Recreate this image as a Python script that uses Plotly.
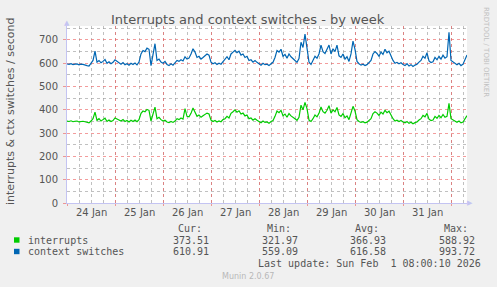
import pandas as pd
import plotly.graph_objects as go

# ---------------- data ----------------
start = "2026-01-24 00:00"
ctx_switches = [
    597, 595, 598, 594, 596, 597, 593, 596, 595, 594,
    590, 588, 598, 612, 652, 605, 612, 602, 608, 616, 600, 606, 598, 604,
    615, 608, 600, 596, 603, 594, 598, 592, 600, 595, 601, 593,
    605, 640, 655, 650, 665, 660,
    590, 640, 684, 612, 618, 605, 600, 608, 595, 590, 598, 592, 600, 612, 608, 615, 610,
    628, 618, 622, 640, 662, 648, 625, 630, 618, 625, 632, 640, 635, 605, 598, 602, 595,
    600, 596, 608, 615, 628,
    615, 640, 648, 655, 645, 652, 635, 640, 625, 630, 612, 615, 605, 612, 604, 598, 592,
    600, 594, 596, 590, 598, 604,
    625, 655, 648, 660, 630, 638, 622, 640, 628, 618, 612, 604, 620, 690, 668, 725, 670,
    605, 595, 612, 630, 622, 640, 678, 650, 642, 660, 678, 640, 662, 650, 678, 632, 625,
    640, 618, 628, 608, 640, 695, 660, 608, 598, 592, 596, 590, 594, 604, 612, 640, 650,
    642, 630, 648, 638, 660, 645,
    652, 628, 612, 600, 604, 598, 602, 595, 590, 598, 588, 594, 586, 592, 596, 605, 612,
    630, 622, 645, 610, 603, 606, 625, 615, 630, 618, 635, 622, 628, 733, 612, 605, 598,
    594, 600, 590, 596, 615, 636,
]
interrupts = [
    352, 350, 353, 349, 351, 352, 348, 350, 351, 349,
    345, 344, 352, 362, 390, 355, 362, 352, 358, 364, 350, 356, 350, 354,
    365, 360, 356, 352, 358, 350, 354, 348, 355, 350, 356, 349,
    358, 385, 395, 392, 402, 398,
    352, 385, 412, 362, 368, 358, 352, 356, 348, 345, 350, 346, 352, 362, 358, 365, 360,
    405, 372, 370, 385, 408, 392, 372, 378, 368, 375, 380, 386, 382, 356, 350, 354, 348,
    352, 349, 358, 362, 372,
    365, 385, 392, 400, 390, 396, 382, 386, 374, 378, 362, 365, 356, 362, 355, 350, 345,
    352, 346, 348, 342, 350, 354,
    372, 395, 388, 398, 375, 382, 368, 384, 374, 366, 362, 355, 368, 420, 400, 432, 405,
    356, 350, 362, 378, 370, 385, 412, 392, 386, 398, 418, 386, 400, 392, 410, 378, 372,
    384, 366, 374, 358, 384, 415, 395, 358, 350, 346, 349, 344, 347, 355, 362, 384, 392,
    386, 376, 390, 382, 398, 388,
    394, 375, 362, 352, 356, 350, 354, 348, 344, 350, 342, 347, 340, 345, 348, 356, 362,
    376, 370, 385, 360, 354, 356, 372, 364, 376, 366, 380, 368, 372, 428, 362, 356, 350,
    347, 352, 344, 348, 362, 375,
]
day_labels = ["24 Jan", "25 Jan", "26 Jan", "27 Jan", "28 Jan", "29 Jan", "30 Jan", "31 Jan"]
series_names = ["interrupts", "context switches"]
series_colors = ["#00cc00", "#0066b3"]
stats_cur = ["373.51", "610.91"]
stats_min = ["321.97", "559.09"]
stats_avg = ["366.93", "616.58"]
stats_max = ["588.92", "993.72"]

times = pd.date_range(start, periods=len(ctx_switches), freq="h")
x_start = pd.Timestamp(start)
x_end = pd.Timestamp("2026-02-01 08:00")
midnights = pd.date_range("2026-01-24", "2026-02-01", freq="D")
noons = [pd.Timestamp(f"2026-01-{d} 12:00") for d in range(24, 32)]

# ---------------- layout geometry ----------------
W, H = 497, 287
L, R, T, B = 67, 467, 26, 203


def px(x):
    return (x - L) / (R - L)


def py(y):
    return (B - y) / (B - T)


fig = go.Figure()
for name, vals, col in zip(series_names, [interrupts, ctx_switches], series_colors):
    fig.add_trace(go.Scatter(x=times, y=vals, mode="lines", name=name,
                             line=dict(color=col, width=1.2), showlegend=False,
                             hoverinfo="skip"))

grid_major = "rgba(235,90,90,0.6)"
grid_minor = "rgba(150,150,150,0.6)"
axis_col = "#c4c4f2"
txt_col = "#555555"
mono = "DejaVu Sans Mono"

fig.update_layout(
    width=W, height=H,
    margin=dict(l=L, r=W - R, t=T, b=H - B, pad=0),
    paper_bgcolor="#f0f0f0", plot_bgcolor="#ffffff",
    font=dict(family="DejaVu Sans", size=10, color=txt_col),
    xaxis=dict(range=[x_start, x_end], tickvals=list(midnights), showticklabels=False,
               showgrid=True, gridcolor=grid_major, griddash="dot", gridwidth=1,
               ticks="outside", ticklen=2, tickcolor=grid_major,
               minor=dict(dtick=6 * 3600 * 1000, tick0=x_start, showgrid=True,
                          gridcolor=grid_minor, griddash="dot", gridwidth=1),
               showline=True, linecolor=axis_col, linewidth=1, zeroline=False,
               fixedrange=True),
    yaxis=dict(range=[0, 760], dtick=100, tick0=0, showgrid=True, gridcolor=grid_major,
               griddash="dot", gridwidth=1, ticks="outside", ticklen=3,
               tickcolor=grid_major, ticklabelstandoff=3,
               minor=dict(dtick=50, showgrid=True, gridcolor=grid_minor,
                          griddash="dot", gridwidth=1),
               showline=True, linecolor=axis_col, linewidth=1, zeroline=False,
               tickfont=dict(size=10, color=txt_col), fixedrange=True),
)

ann = []
# title
ann.append(dict(text="Interrupts and context switches - by week", x=px(248), y=py(19),
                xref="paper", yref="paper", showarrow=False,
                font=dict(size=13, color=txt_col, family="DejaVu Sans"),
                xanchor="center", yanchor="middle"))
# y title
ann.append(dict(text="interrupts & ctx switches / second", x=px(10), y=py(112),
                xref="paper", yref="paper", showarrow=False, textangle=-90,
                font=dict(size=11, color=txt_col), xanchor="center", yanchor="middle"))
# right vertical credit
ann.append(dict(text="RRDTOOL / TOBI OETIKER", x=px(486), y=py(52),
                xref="paper", yref="paper", showarrow=False, textangle=90,
                font=dict(size=7, color="#c0c0c0"), xanchor="center", yanchor="middle"))
# x day labels
for t, lab in zip(noons, day_labels):
    ann.append(dict(text=lab, x=t, y=py(212), xref="x", yref="paper", showarrow=False,
                    font=dict(size=10, color=txt_col), xanchor="center", yanchor="middle"))
# arrows on axes
ann.append(dict(text="▲", x=px(67), y=py(23), xref="paper", yref="paper", showarrow=False,
                font=dict(size=7, color=axis_col), xanchor="center", yanchor="middle"))
ann.append(dict(text="▶", x=px(470), y=py(203), xref="paper", yref="paper", showarrow=False,
                font=dict(size=7, color=axis_col), xanchor="center", yanchor="middle"))

# legend table
col_right = [204, 293, 381, 470]
for hdr, xr in zip(["Cur:", "Min:", "Avg:", "Max:"], col_right):
    ann.append(dict(text=hdr, x=px(xr), y=py(228), xref="paper", yref="paper",
                    showarrow=False, font=dict(family=mono, size=10, color=txt_col),
                    xanchor="right", yanchor="middle"))
val_right = [211, 300, 388, 477]
rows_y = [240, 251.5]
shapes = []
for i, name in enumerate(series_names):
    yy = rows_y[i]
    shapes.append(dict(type="rect", xref="paper", yref="paper",
                       x0=px(14), x1=px(19.5), y0=py(yy + 2.7), y1=py(yy - 2.7),
                       fillcolor=series_colors[i], line=dict(width=0)))
    ann.append(dict(text=name, x=px(26), y=py(yy), xref="paper", yref="paper",
                    showarrow=False, font=dict(family=mono, size=10, color=txt_col),
                    xanchor="left", yanchor="middle"))
    for v, xr in zip([stats_cur[i], stats_min[i], stats_avg[i], stats_max[i]], val_right):
        ann.append(dict(text=v, x=px(xr), y=py(yy), xref="paper", yref="paper",
                        showarrow=False, font=dict(family=mono, size=10, color=txt_col),
                        xanchor="right", yanchor="middle"))
ann.append(dict(text="Last update: Sun Feb&nbsp;&nbsp;1 08:00:10 2026", x=px(483), y=py(263.5),
                xref="paper", yref="paper", showarrow=False,
                font=dict(family=mono, size=10, color=txt_col),
                xanchor="right", yanchor="middle"))
ann.append(dict(text="Munin 2.0.67", x=px(248), y=py(276), xref="paper", yref="paper",
                showarrow=False, font=dict(size=8, color="#b8b8b8"),
                xanchor="center", yanchor="middle"))

fig.update_layout(annotations=ann, shapes=shapes)
fig.write_html("out.html", config={"displayModeBar": False})
